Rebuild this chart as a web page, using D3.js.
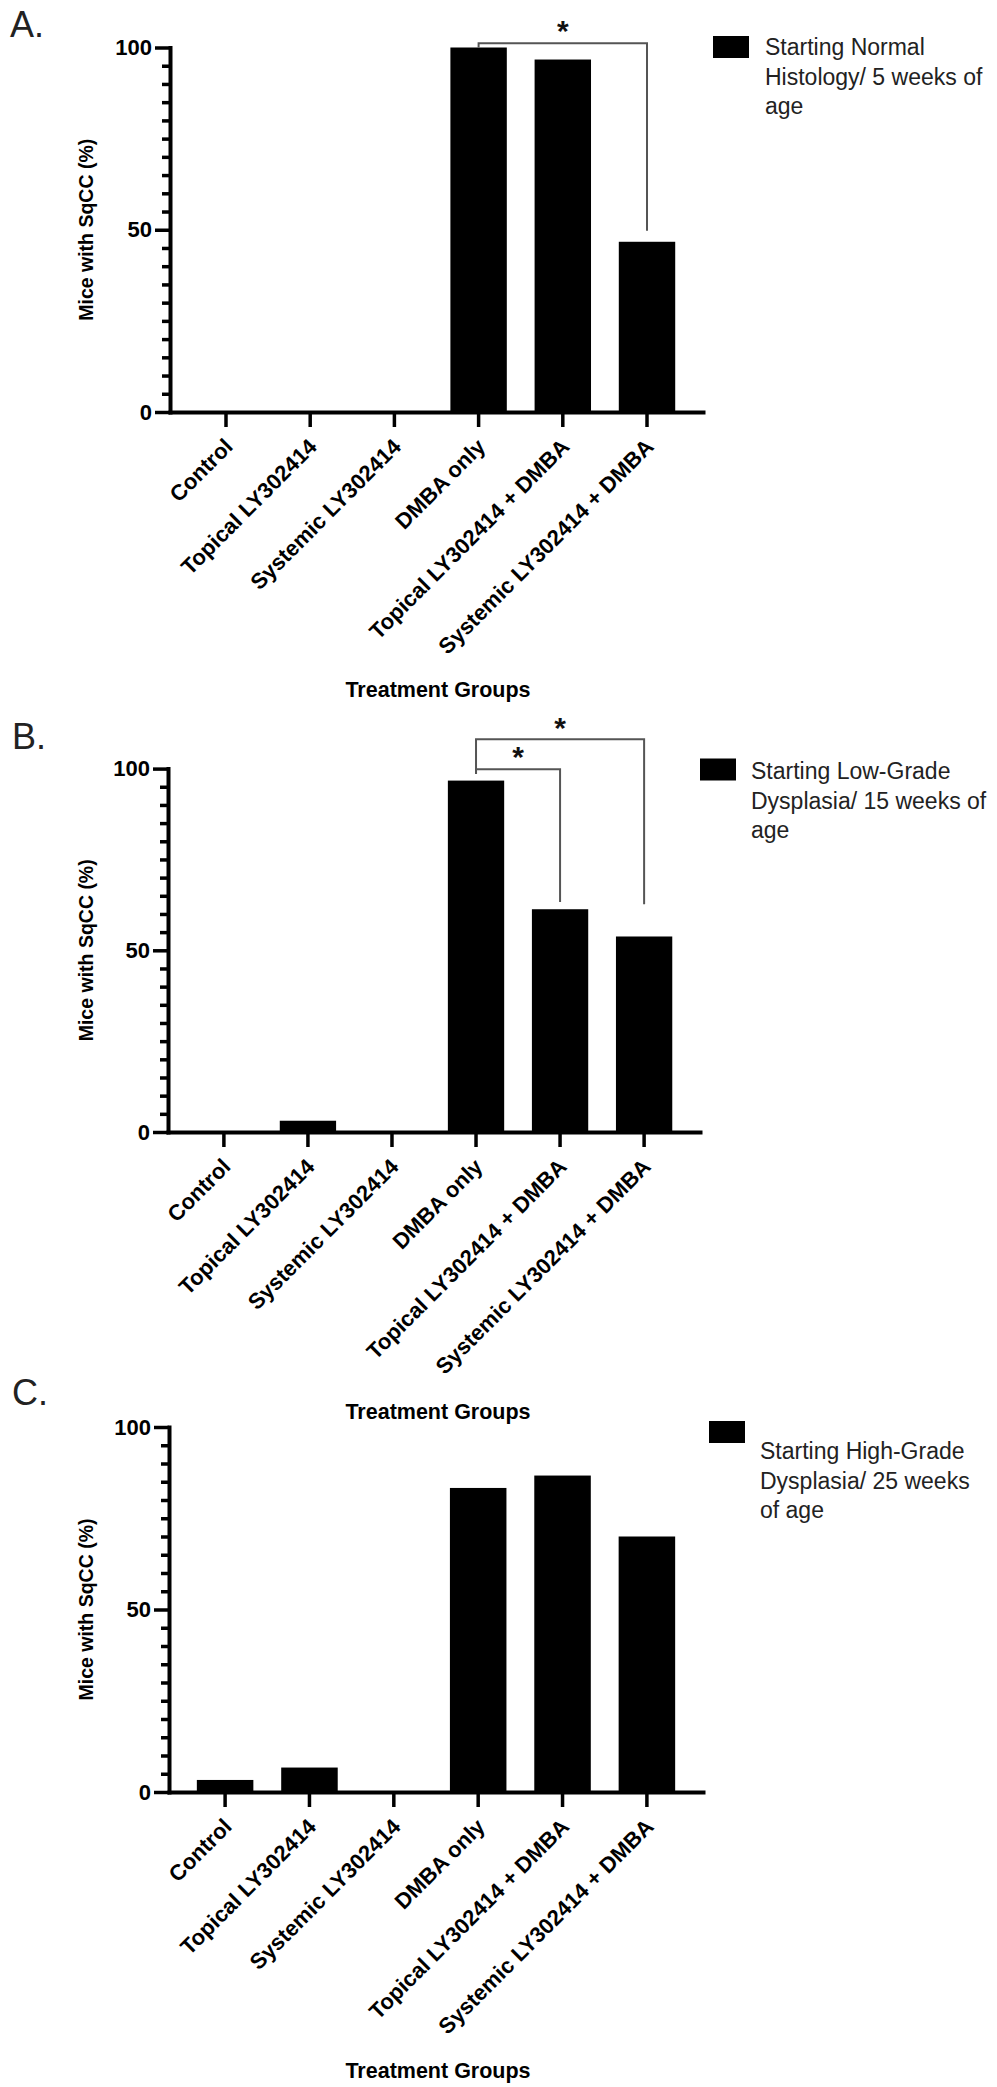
<!DOCTYPE html>
<html><head><meta charset="utf-8">
<script src="https://cdn.jsdelivr.net/npm/d3@7"></script>
<style>
body{margin:0;background:#fff;}
text{font-family:"Liberation Sans",Arial,Helvetica,sans-serif;}
</style></head><body>
<svg id="chart" width="997" height="2087"></svg>
<script>
// ---------------- data ----------------
const categories = ["Control", "Topical LY302414", "Systemic LY302414", "DMBA only",
  "Topical LY302414 + DMBA", "Systemic LY302414 + DMBA"];
const valuesA = [0, 0, 0, 100, 96.7, 46.7];
const valuesB = [0, 3.1, 0, 96.7, 61.3, 53.8];
const valuesC = [3.3, 6.7, 0, 83.3, 86.7, 70];
const majorTicks = [0, 50, 100];
const minorTicks = [5, 10, 15, 20, 25, 30, 35, 40, 45, 55, 60, 65, 70, 75, 80, 85, 90, 95];
const panelLabels = ["A.", "B.", "C."];
const legendA = ["Starting Normal", "Histology/ 5 weeks of", "age"];
const legendB = ["Starting Low-Grade", "Dysplasia/ 15 weeks of", "age"];
const legendC = ["Starting High-Grade", "Dysplasia/ 25 weeks", "of age"];
const yTitle = "Mice with SqCC (%)";
const xTitle = "Treatment Groups";
// significance brackets (in data units of the y axis)
const bracketsA = [{from: 3, to: 5, level: 101.2, left: 100, right: 49.7, star: 106.5, label: "*"}];
const bracketsB = [{from: 3, to: 4, level: 99.8, left: 98.5, right: 63.3, star: 105, label: "*"},
                   {from: 3, to: 5, level: 108.1, left: 98.5, right: 62.7, star: 113, label: "*"}];
const bracketsC = [];

// ---------------- layout ----------------
const panels = [
  {values: valuesA, legend: legendA, brackets: bracketsA, label: panelLabels[0],
   x0: 170, x1: 703, yTop: 47.5, yBot: 412, lab: [10, 37],
   box: [713, 36], txt: [765, 55], xTitleY: 697},
  {values: valuesB, legend: legendB, brackets: bracketsB, label: panelLabels[1],
   x0: 168, x1: 700, yTop: 768.6, yBot: 1132, lab: [12, 749],
   box: [700, 758.5], txt: [751, 779], xTitleY: 1419},
  {values: valuesC, legend: legendC, brackets: bracketsC, label: panelLabels[2],
   x0: 169, x1: 703, yTop: 1427, yBot: 1792, lab: [12, 1405],
   box: [709, 1421], txt: [760, 1459], xTitleY: 2078}
];

const svg = d3.select("#chart");

panels.forEach(p => {
  const g = svg.append("g");
  const y = d3.scaleLinear().domain([0, 100]).range([p.yBot, p.yTop]);
  const x = d3.scaleBand().domain(categories).range([p.x0, p.x1])
    .paddingInner(0.33).paddingOuter(0.33);
  const data = categories.map((c, i) => ({c, v: p.values[i]}));

  // bars
  g.selectAll("rect.bar").data(data).join("rect").attr("class", "bar")
    .attr("x", d => x(d.c)).attr("width", x.bandwidth())
    .attr("y", d => y(d.v)).attr("height", d => p.yBot - y(d.v))
    .attr("fill", "#000");

  // y axis minor ticks
  const gMinor = g.append("g").attr("transform", `translate(${p.x0},0)`)
    .call(d3.axisLeft(y).tickValues(minorTicks).tickSize(8).tickFormat(""));
  gMinor.select(".domain").remove();
  gMinor.selectAll(".tick line").attr("stroke", "#000").attr("stroke-width", 3.5);

  // y axis major
  const gY = g.append("g").attr("transform", `translate(${p.x0},0)`)
    .call(d3.axisLeft(y).tickValues(majorTicks).tickSize(15).tickSizeOuter(0).tickPadding(3));
  gY.select(".domain").attr("stroke", "#000").attr("stroke-width", 4).attr("stroke-linecap", "square");
  gY.selectAll(".tick line").attr("stroke", "#000").attr("stroke-width", 3.5);
  gY.selectAll(".tick text").attr("font-size", 22).attr("font-weight", "bold")
    .attr("fill", "#000").style("font-family", '"Liberation Sans",Arial,sans-serif');

  // x axis
  const gX = g.append("g").attr("transform", `translate(0,${p.yBot})`)
    .call(d3.axisBottom(x).tickSize(15).tickSizeOuter(0).tickFormat(""));
  gX.select(".domain").attr("stroke", "#000").attr("stroke-width", 4).attr("stroke-linecap", "square");
  gX.selectAll(".tick line").attr("stroke", "#000").attr("stroke-width", 3.5);

  // rotated category labels
  g.selectAll("text.cat").data(categories).join("text").attr("class", "cat")
    .attr("transform", c => `translate(${x(c) + x.bandwidth() / 2 + 8},${p.yBot + 36}) rotate(-45)`)
    .attr("text-anchor", "end").attr("font-size", 22).attr("font-weight", "bold")
    .attr("fill", "#000").text(c => c);

  // axis titles
  g.append("text")
    .attr("transform", `translate(93,${(p.yTop + p.yBot) / 2}) rotate(-90)`)
    .attr("text-anchor", "middle").attr("font-size", 19.5).attr("font-weight", "bold")
    .attr("fill", "#000").text(yTitle);
  g.append("text").attr("x", 438).attr("y", p.xTitleY)
    .attr("text-anchor", "middle").attr("font-size", 21.5).attr("font-weight", "bold")
    .attr("fill", "#000").text(xTitle);

  // panel label
  g.append("text").attr("x", p.lab[0]).attr("y", p.lab[1])
    .attr("font-size", 36).attr("fill", "#222").text(p.label);

  // legend
  g.append("rect").attr("x", p.box[0]).attr("y", p.box[1]).attr("width", 36).attr("height", 22)
    .attr("fill", "#000");
  g.selectAll("text.leg").data(p.legend).join("text").attr("class", "leg")
    .attr("x", p.txt[0]).attr("y", (d, i) => p.txt[1] + i * 29.5)
    .attr("font-size", 23).attr("fill", "#222").text(d => d);

  // significance brackets
  const cx = i => x(categories[i]) + x.bandwidth() / 2;
  p.brackets.forEach(b => {
    const xl = cx(b.from), xr = cx(b.to);
    const path = d3.path();
    path.moveTo(xl, y(b.left));
    path.lineTo(xl, y(b.level));
    path.lineTo(xr, y(b.level));
    path.lineTo(xr, y(b.right));
    g.append("path").attr("d", path.toString()).attr("fill", "none")
      .attr("stroke", "#555").attr("stroke-width", 2);
    g.append("text").attr("x", (xl + xr) / 2).attr("y", y(b.star) + 17)
      .attr("text-anchor", "middle").attr("font-size", 30).attr("font-weight", "bold")
      .attr("fill", "#111").text(b.label);
  });
});
</script>
</body></html>
